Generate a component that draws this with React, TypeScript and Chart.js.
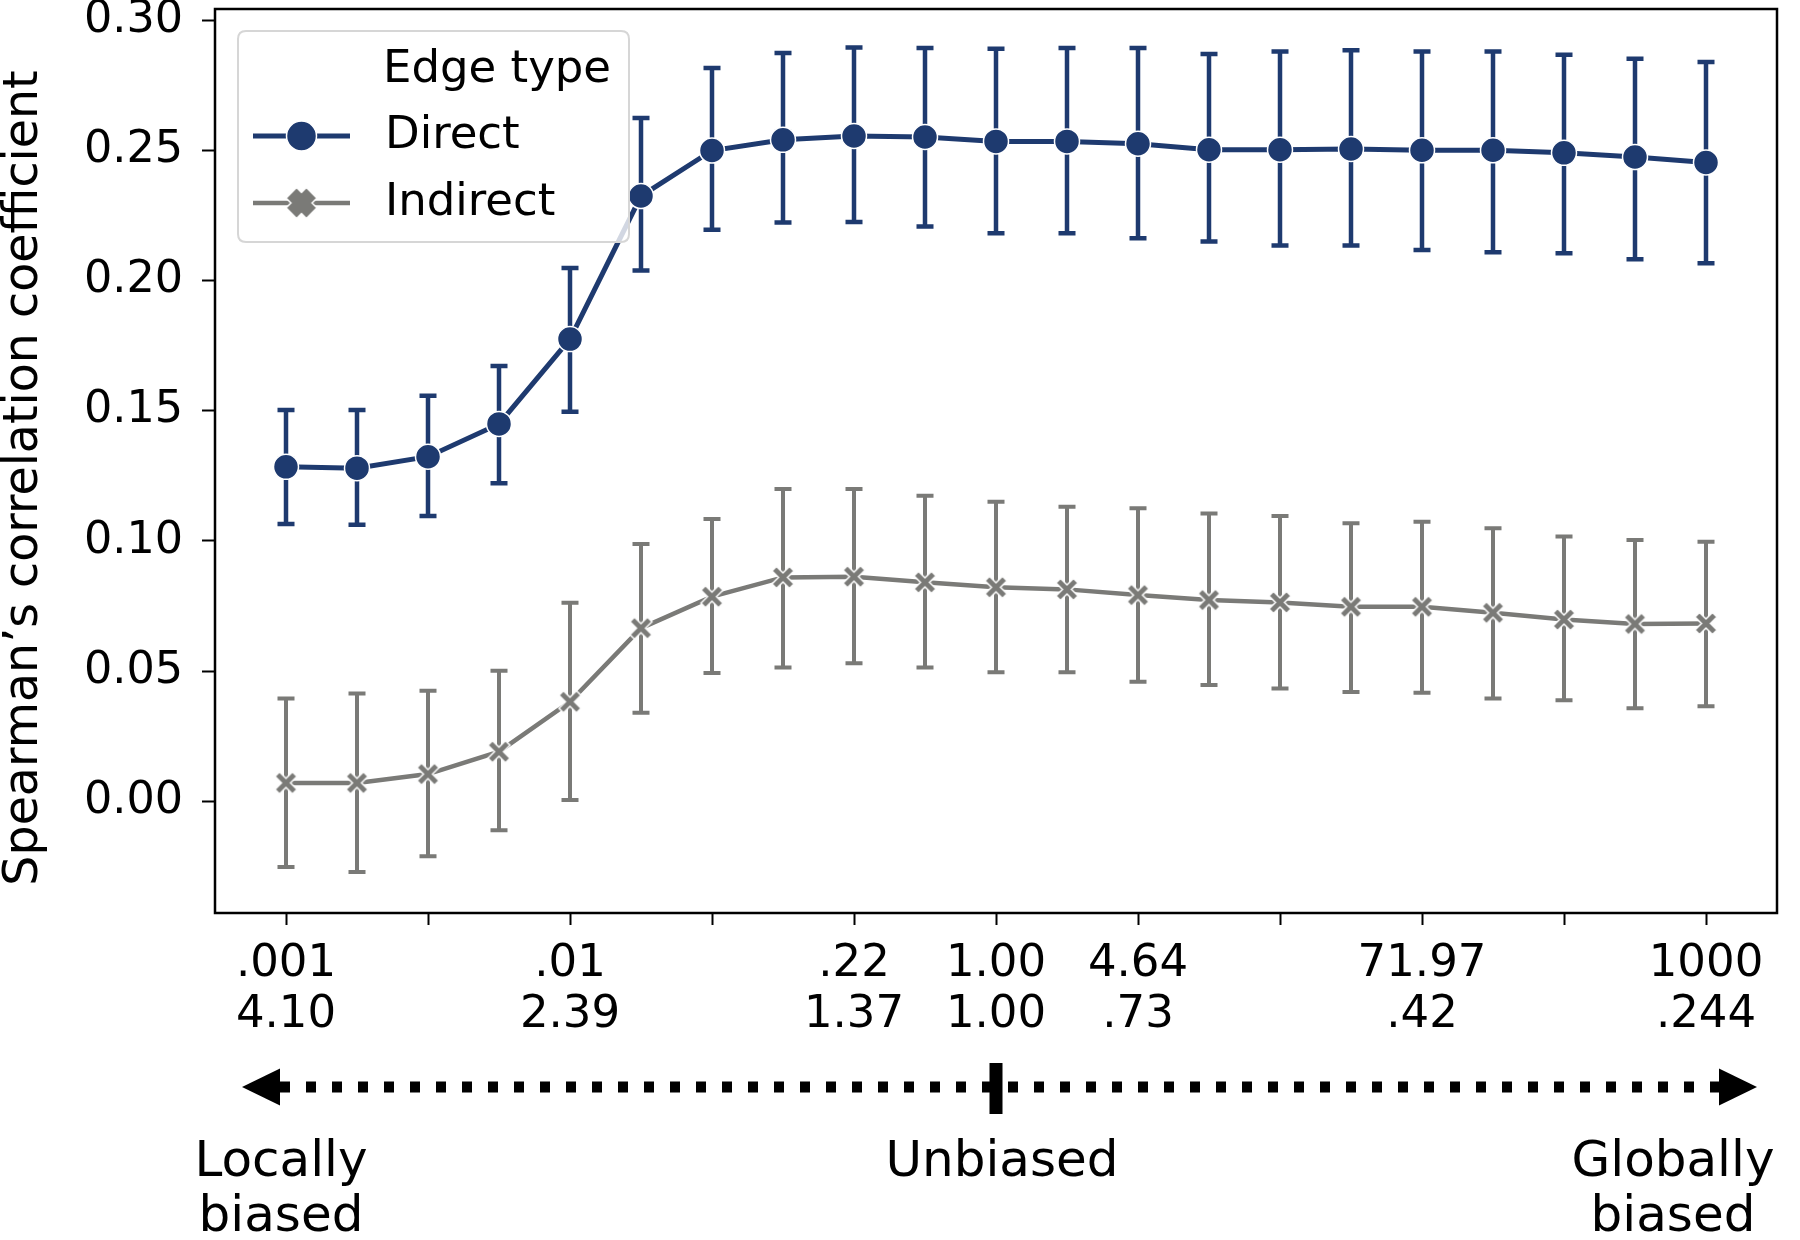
import React, { useEffect, useRef } from 'react';
import { Chart, registerables } from 'chart.js';

Chart.register(...registerables);

// ---------- data ----------
const positions = [0, 1, 2, 3, 4, 5, 6, 7, 8, 9, 10, 11, 12, 13, 14, 15, 16, 17, 18, 19, 20];

const directMean = [0.1285, 0.128, 0.1324, 0.145, 0.1776, 0.2326, 0.2501, 0.2542, 0.2557, 0.2553, 0.2536, 0.2536, 0.2527, 0.2504, 0.2504, 0.2507, 0.2502, 0.2502, 0.2492, 0.2476, 0.2455];
const directLow = [0.1065, 0.1062, 0.1096, 0.1222, 0.1497, 0.204, 0.2196, 0.2224, 0.2226, 0.2209, 0.2183, 0.2183, 0.2164, 0.2151, 0.2136, 0.2136, 0.2119, 0.211, 0.2106, 0.2083, 0.2068];
const directHigh = [0.1504, 0.1504, 0.1558, 0.1673, 0.2049, 0.2626, 0.2818, 0.2876, 0.2897, 0.2895, 0.2892, 0.2895, 0.2895, 0.2872, 0.2882, 0.2886, 0.2882, 0.2882, 0.2869, 0.2854, 0.2841];

const indirectMean = [0.007, 0.007, 0.0104, 0.019, 0.0382, 0.0665, 0.0786, 0.086, 0.0863, 0.0841, 0.0822, 0.0814, 0.0792, 0.0773, 0.0764, 0.0747, 0.0747, 0.0724, 0.0698, 0.0681, 0.0683];
const indirectLow = [-0.0253, -0.0272, -0.0212, -0.0112, 0.0004, 0.034, 0.0493, 0.0514, 0.053, 0.0514, 0.0495, 0.0495, 0.0459, 0.0446, 0.0433, 0.042, 0.0417, 0.0395, 0.0388, 0.0357, 0.0365];
const indirectHigh = [0.0395, 0.0414, 0.0424, 0.0501, 0.0763, 0.0988, 0.1085, 0.12, 0.12, 0.1174, 0.1151, 0.1132, 0.1126, 0.1106, 0.1096, 0.1068, 0.1074, 0.1049, 0.1017, 0.1004, 0.0997];

const seriesNames = ['Direct', 'Indirect'];
const legendTitle = 'Edge type';

const xTickPositions = [0, 2, 4, 6, 8, 10, 12, 14, 16, 18, 20];
const xTickTop = ['.001', '', '.01', '', '.22', '1.00', '4.64', '', '71.97', '', '1000'];
const xTickBottom = ['4.10', '', '2.39', '', '1.37', '1.00', '.73', '', '.42', '', '.244'];

const yTicks = [0, 0.05, 0.1, 0.15, 0.2, 0.25, 0.3];
const yTitle = 'Spearman\u2019s correlation coefficient';

const leftLabel = ['Locally', 'biased'];
const centerLabel = ['Unbiased'];
const rightLabel = ['Globally', 'biased'];

// ---------- style ----------
const FONT = '"DejaVu Sans", sans-serif';
const DIRECT_COLOR = '#1e3a6f';
const INDIRECT_COLOR = '#7a7a77';
const W = 1800;
const H = 1240;

function makeXMarker(extent: number, halfThick: number, color: string, edge: number) {
  const size = Math.ceil(extent + edge * 2 + 4);
  const c = document.createElement('canvas');
  c.width = size;
  c.height = size;
  const g = c.getContext('2d')!;
  g.translate(size / 2, size / 2);
  g.rotate(Math.PI / 4);
  const a = (extent / 2) * Math.SQRT2 - halfThick;
  const t = halfThick;
  g.beginPath();
  g.moveTo(-t, -a);
  g.lineTo(t, -a);
  g.lineTo(t, -t);
  g.lineTo(a, -t);
  g.lineTo(a, t);
  g.lineTo(t, t);
  g.lineTo(t, a);
  g.lineTo(-t, a);
  g.lineTo(-t, t);
  g.lineTo(-a, t);
  g.lineTo(-a, -t);
  g.lineTo(-t, -t);
  g.closePath();
  g.fillStyle = color;
  g.fill();
  if (edge > 0) {
    g.strokeStyle = '#ffffff';
    g.lineWidth = edge;
    g.lineJoin = 'miter';
    g.stroke();
  }
  return c;
}

const errorBarPlugin = {
  id: 'errorBars',
  beforeDatasetsDraw(chart: any) {
    const ctx = chart.ctx;
    const xs = chart.scales.x;
    const ys = chart.scales.y;
    const sets = [
      { low: directLow, high: directHigh, color: DIRECT_COLOR, lw: 4.5 },
      { low: indirectLow, high: indirectHigh, color: INDIRECT_COLOR, lw: 4 },
    ];
    const cap = 8.5;
    ctx.save();
    sets.forEach((s) => {
      ctx.strokeStyle = s.color;
      ctx.lineWidth = s.lw;
      ctx.lineCap = 'butt';
      s.low.forEach((lo, i) => {
        const x = xs.getPixelForValue(positions[i]);
        const y1 = ys.getPixelForValue(lo);
        const y2 = ys.getPixelForValue(s.high[i]);
        ctx.beginPath();
        ctx.moveTo(x, y1);
        ctx.lineTo(x, y2);
        ctx.moveTo(x - cap, y1);
        ctx.lineTo(x + cap, y1);
        ctx.moveTo(x - cap, y2);
        ctx.lineTo(x + cap, y2);
        ctx.stroke();
      });
    });
    ctx.restore();
  },
};

const framePlugin = {
  id: 'frame',
  afterDatasetsDraw(chart: any) {
    const { ctx, chartArea } = chart;
    ctx.save();
    ctx.strokeStyle = '#000';
    ctx.lineWidth = 2.5;
    ctx.strokeRect(chartArea.left, chartArea.top, chartArea.right - chartArea.left, chartArea.bottom - chartArea.top);
    ctx.restore();
  },
};

const yTitlePlugin = {
  id: 'yTitle',
  afterDraw(chart: any) {
    const ctx = chart.ctx;
    ctx.save();
    ctx.translate(25, 478);
    ctx.rotate(-Math.PI / 2);
    ctx.fillStyle = '#000';
    ctx.font = `47.5px ${FONT}`;
    ctx.textAlign = 'center';
    ctx.textBaseline = 'middle';
    ctx.fillText(yTitle, 0, 0);
    ctx.restore();
  },
};

const legendPlugin = {
  id: 'customLegend',
  afterDraw(chart: any) {
    const ctx = chart.ctx;
    const bx = 238, by = 31, bw = 391, bh = 211, r = 8;
    ctx.save();
    ctx.beginPath();
    ctx.moveTo(bx + r, by);
    ctx.lineTo(bx + bw - r, by);
    ctx.quadraticCurveTo(bx + bw, by, bx + bw, by + r);
    ctx.lineTo(bx + bw, by + bh - r);
    ctx.quadraticCurveTo(bx + bw, by + bh, bx + bw - r, by + bh);
    ctx.lineTo(bx + r, by + bh);
    ctx.quadraticCurveTo(bx, by + bh, bx, by + bh - r);
    ctx.lineTo(bx, by + r);
    ctx.quadraticCurveTo(bx, by, bx + r, by);
    ctx.closePath();
    ctx.fillStyle = 'rgba(255,255,255,0.8)';
    ctx.fill();
    ctx.strokeStyle = '#d6d6d6';
    ctx.lineWidth = 2;
    ctx.stroke();

    ctx.fillStyle = '#000';
    ctx.font = `45px ${FONT}`;
    ctx.textBaseline = 'middle';
    ctx.textAlign = 'center';
    ctx.fillText(legendTitle, 497, 70);

    ctx.textAlign = 'left';
    const rows = [
      { y: 136, color: DIRECT_COLOR, lw: 5, kind: 'circle' },
      { y: 203, color: INDIRECT_COLOR, lw: 4.5, kind: 'x' },
    ];
    rows.forEach((row, i) => {
      ctx.strokeStyle = row.color;
      ctx.lineWidth = row.lw;
      ctx.beginPath();
      ctx.moveTo(253, row.y);
      ctx.lineTo(350, row.y);
      ctx.stroke();
      if (row.kind === 'circle') {
        ctx.beginPath();
        ctx.arc(301.5, row.y, 15, 0, Math.PI * 2);
        ctx.fillStyle = row.color;
        ctx.fill();
        ctx.strokeStyle = '#fff';
        ctx.lineWidth = 1.5;
        ctx.stroke();
      } else {
        const img = makeXMarker(31, 7.5, row.color, 1.5);
        ctx.drawImage(img, 301.5 - img.width / 2, row.y - img.height / 2);
      }
      ctx.fillStyle = '#000';
      ctx.fillText(seriesNames[i], 385, row.y);
    });
    ctx.restore();
  },
};

const annotationPlugin = {
  id: 'biasArrow',
  afterDraw(chart: any) {
    const ctx = chart.ctx;
    const ay = 1087;
    const leftTip = 242, rightTip = 1757, headLen = 38, headHalf = 18.5;
    ctx.save();
    ctx.strokeStyle = '#000';
    ctx.fillStyle = '#000';
    ctx.lineWidth = 11;
    ctx.setLineDash([10, 16]);
    ctx.beginPath();
    ctx.moveTo(leftTip + headLen, ay);
    ctx.lineTo(rightTip - headLen, ay);
    ctx.stroke();
    ctx.setLineDash([]);
    // heads
    ctx.beginPath();
    ctx.moveTo(leftTip, ay);
    ctx.lineTo(leftTip + headLen, ay - headHalf);
    ctx.lineTo(leftTip + headLen, ay + headHalf);
    ctx.closePath();
    ctx.fill();
    ctx.beginPath();
    ctx.moveTo(rightTip, ay);
    ctx.lineTo(rightTip - headLen, ay - headHalf);
    ctx.lineTo(rightTip - headLen, ay + headHalf);
    ctx.closePath();
    ctx.fill();
    // center marker at the unbiased position
    const cx = chart.scales.x.getPixelForValue(10);
    ctx.fillRect(cx - 6.5, 1063, 13, 51);

    ctx.font = `50px ${FONT}`;
    ctx.textBaseline = 'middle';
    ctx.textAlign = 'center';
    leftLabel.forEach((t, i) => ctx.fillText(t, 281, 1163 + i * 55));
    centerLabel.forEach((t, i) => ctx.fillText(t, 1002, 1163 + i * 55));
    rightLabel.forEach((t, i) => ctx.fillText(t, 1673, 1163 + i * 55));
    ctx.restore();
  },
};

export default function App() {
  const canvasRef = useRef<HTMLCanvasElement | null>(null);

  useEffect(() => {
    const canvas = canvasRef.current;
    if (!canvas) return;
    const xMarker = makeXMarker(22, 3.2, INDIRECT_COLOR, 1.5);

    const chart = new Chart(canvas, {
      type: 'line',
      data: {
        datasets: [
          {
            label: seriesNames[0],
            data: positions.map((p, i) => ({ x: p, y: directMean[i] })),
            borderColor: DIRECT_COLOR,
            backgroundColor: DIRECT_COLOR,
            borderWidth: 5,
            pointStyle: 'circle',
            pointRadius: 12.5,
            pointBackgroundColor: DIRECT_COLOR,
            pointBorderColor: '#ffffff',
            pointBorderWidth: 1.5,
            tension: 0,
            order: 2,
          },
          {
            label: seriesNames[1],
            data: positions.map((p, i) => ({ x: p, y: indirectMean[i] })),
            borderColor: INDIRECT_COLOR,
            backgroundColor: INDIRECT_COLOR,
            borderWidth: 4.5,
            pointStyle: xMarker as any,
            pointRadius: 11,
            tension: 0,
            order: 1,
          },
        ],
      },
      options: {
        responsive: false,
        animation: false,
        devicePixelRatio: 1,
        layout: { padding: { left: 0, top: 9, right: 23, bottom: 0 }, autoPadding: false } as any,
        plugins: {
          legend: { display: false },
          tooltip: { enabled: false },
        },
        scales: {
          x: {
            type: 'linear',
            min: -1,
            max: 21,
            border: { display: false },
            grid: { drawOnChartArea: false, drawTicks: true, tickLength: 12, tickWidth: 2, tickColor: '#000' },
            afterBuildTicks: (scale: any) => {
              scale.ticks = xTickPositions.map((v) => ({ value: v }));
            },
            afterFit: (scale: any) => {
              scale.height = H - 913;
              scale.paddingLeft = 0;
              scale.paddingRight = 0;
            },
            ticks: {
              autoSkip: false,
              maxRotation: 0,
              minRotation: 0,
              padding: 14,
              color: '#000',
              font: { family: FONT, size: 45, lineHeight: 1.125 },
              callback: (value: any) => {
                const idx = xTickPositions.indexOf(Number(value));
                if (idx < 0) return '';
                if (!xTickTop[idx] && !xTickBottom[idx]) return '';
                return [xTickTop[idx], xTickBottom[idx]];
              },
            },
          },
          y: {
            type: 'linear',
            min: -0.043,
            max: 0.3045,
            border: { display: false },
            grid: { drawOnChartArea: false, drawTicks: true, tickLength: 13, tickWidth: 2, tickColor: '#000' },
            afterBuildTicks: (scale: any) => {
              scale.ticks = yTicks.map((v) => ({ value: v }));
            },
            afterFit: (scale: any) => {
              scale.width = 215;
              scale.paddingTop = 0;
              scale.paddingBottom = 0;
            },
            ticks: {
              padding: 19,
              color: '#000',
              font: { family: FONT, size: 44.5, lineHeight: 1.2 },
              callback: (value: any) => Number(value).toFixed(2),
            },
            title: { display: false },
          },
        },
      },
      plugins: [errorBarPlugin, framePlugin, yTitlePlugin, legendPlugin, annotationPlugin],
    });

    return () => {
      chart.destroy();
    };
  }, []);

  return (
    <div style={{ position: 'absolute', left: 0, top: 0, width: W, height: H, background: '#fff' }}>
      <canvas ref={canvasRef} width={W} height={H} style={{ width: W, height: H, display: 'block' }} />
    </div>
  );
}
